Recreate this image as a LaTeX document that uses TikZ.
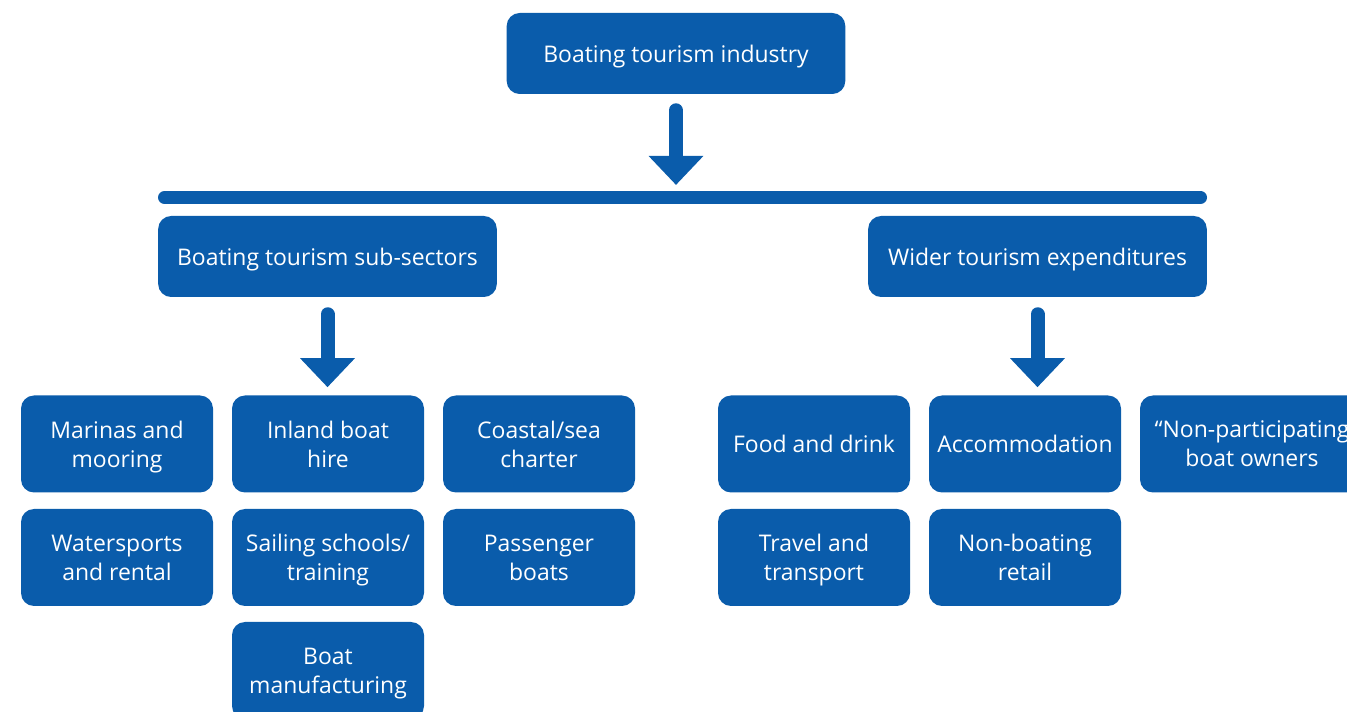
\documentclass[tikz,border=0pt]{standalone}
\usepackage{fontspec}
\setmainfont{Open Sans}
\usetikzlibrary{arrows.meta}
\definecolor{boatblue}{RGB}{10,92,171}
\tikzset{
  panel/.style={rounded corners=9.75pt, fill=boatblue, text=white, align=center,
    inner sep=0pt, text depth=0pt, font=\fontsize{17.2}{21.75}\selectfont},
  headbox/.style={panel, minimum width=254pt, minimum height=60.75pt},
  tilebox/.style={panel, minimum width=144pt, minimum height=72.75pt},
  downarrow/.style={boatblue, line width=10.5pt, line cap=round,
    -{Triangle[width=39.75pt,length=21.75pt]}}
}
\begin{document}
\begin{tikzpicture}[x=0.75pt,y=-0.75pt]
  \clip (0,0) rectangle (1347,712);
  \node[headbox] (industry) at (676,53.5) {Boating tourism industry};
  \coordinate (barL) at (164.5,197.5);
  \coordinate (barM) at (676,197.5);
  \coordinate (barR) at (1200.5,197.5);
  \draw[boatblue, line width=9.75pt, line cap=round] (barL) -- (barR);
  \draw[downarrow, shorten <=12pt, shorten >=9.4pt] (industry.south) -- (barM);
  \node[headbox] (subsectors) at (327.5,256.5) {Boating tourism sub-sectors};
  \node[headbox] (wider) at (1037.5,256.5) {Wider tourism expenditures};
  \node[tilebox] (marinas) at (117,444) {Marinas and\\mooring};
  \node[tilebox] (inland) at (328,444) {Inland boat\\hire};
  \node[tilebox] (coastal) at (539,444) {Coastal/sea\\charter};
  \node[tilebox] (water) at (117,557.5) {Watersports\\and rental};
  \node[tilebox] (sailing) at (328,557.5) {Sailing schools/\\training};
  \node[tilebox] (passenger) at (539,557.5) {Passenger\\boats};
  \node[tilebox] (manufacture) at (328,670.5) {Boat\\manufacturing};
  \node[tilebox] (food) at (814,444) {Food and drink};
  \node[tilebox] (accommodation) at (1025,444) {Accommodation};
  \node[tilebox, minimum width=168pt] (owners) at (1252,444) {“Non-participating\\boat owners};
  \node[tilebox] (travel) at (814,557.5) {Travel and\\transport};
  \node[tilebox] (retail) at (1025,557.5) {Non-boating\\retail};
  \draw[downarrow, shorten <=12.75pt, shorten >=6pt] (subsectors.south) -- (subsectors.south |- inland.north);
  \draw[downarrow, shorten <=12.75pt, shorten >=6pt] (wider.south) -- (wider.south |- accommodation.north);
\end{tikzpicture}
\end{document}
